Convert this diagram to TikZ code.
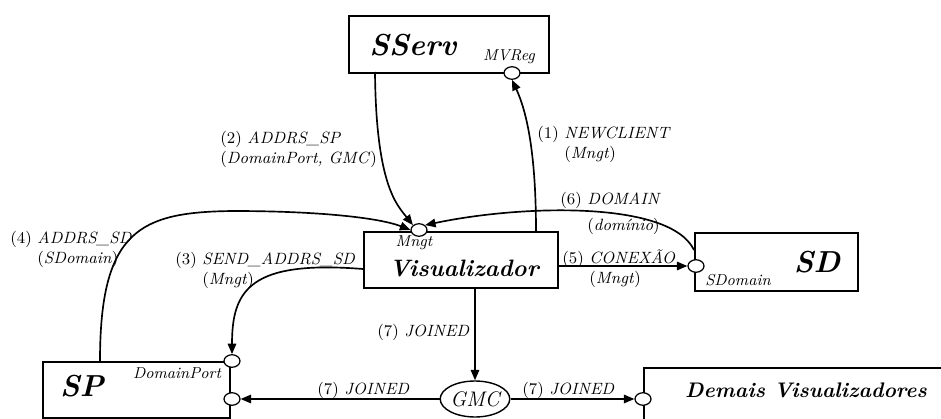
\documentclass[tikz,border=0pt]{standalone}
\usepackage{tikz}
\usetikzlibrary{shapes.geometric, arrows.meta}
% message label: number, name, (argument)
\newcommand{\msglabel}[4][0pt]{\begin{tabular}[t]{@{}l@{\ }l@{}}(#2) & \textit{#3}\\[#1] & (\textit{#4})\end{tabular}}

\begin{document}
\begin{tikzpicture}[x=0.02cm, y=-0.02cm,
  blk/.style={rectangle, draw, line width=1pt, anchor=north west, inner sep=0pt},
  port/.style={ellipse, draw, fill=white, line width=0.7pt, minimum width=0.32cm, minimum height=0.25cm, inner sep=0pt},
  ttl/.style={font=\bfseries\itshape\LARGE, inner sep=0pt},
  sub/.style={font=\bfseries\itshape\large, inner sep=0pt},
  pname/.style={font=\itshape\small, inner sep=0pt},
  msg/.style={anchor=base west, inner sep=0pt, font=\fontsize{9.3}{11.8}\selectfont},
  arr/.style={-{Triangle[length=0.21cm, width=0.17cm]}, line width=0.95pt}
]
\useasboundingbox (0,0) rectangle (941,419);
\clip (0,0) rectangle (941,419);

% blocks
\node[blk, minimum width=4cm, minimum height=1.14cm] (sserv) at (348,15) {};
\node[blk, minimum width=3.88cm, minimum height=1.12cm] (vis) at (363,231) {};
\node[blk, minimum width=3.26cm, minimum height=1.16cm] (sd) at (694,232) {};
\node[blk, minimum width=3.74cm, minimum height=1.12cm] (sp) at (42,361) {};
\node[blk, minimum width=6.2cm, minimum height=1.2cm] (dv) at (643,367) {};
\node[ellipse, draw, fill=white, thick, minimum width=1.28cm, minimum height=0.72cm, inner sep=0pt, font=\itshape\large] (gmc) at (475,399) {GMC};

% ports
\node[port] (mvreg) at (512,73) {};
\node[port] (mngt) at (419,230) {};
\node[port] (sdomain) at (696,266) {};
\node[port] (dport) at (232,361) {};
\node[port] (spin) at (232,399) {};
\node[port] (dvin) at (643,399) {};

% block texts
\node[ttl] (sservtxt) at (413,45) {SServ};
\node[pname] (mvregtxt) at (509,57) {MVReg};
\node[pname] (mngttxt) at (414,243) {Mngt};
\node[sub, font=\bfseries\itshape\fontsize{13.5}{16}\selectfont] (vistxt) at (464,268) {Visualizador};
\node[ttl] (sdtxt) at (817,262) {SD};
\node[pname] (sdomtxt) at (738,280) {SDomain};
\node[ttl] (sptxt) at (82,386) {SP};
\node[pname] (dporttxt) at (177,373) {DomainPort};
\node[sub] (dvtxt) at (806,390) {Demais Visualizadores};

% free ends of the connectors
\coordinate (s2out) at (375,72);
\coordinate (v1out) at (536,231);
\coordinate (v3out) at (363,269);
\coordinate (p4out) at (100,361);
\coordinate (d6out) at (694,250);

% messages
\draw[arr] (v1out) .. controls (536,150) and (526,110) .. (mvreg.south);
\draw[arr] (s2out) .. controls (376,185) and (397,205) .. (mngt.north west);
\draw[arr] (v3out) .. controls (250,260) and (232,290) .. (dport.north);
\draw[arr] (p4out) .. controls (100,230) and (140,212) .. (233,211) .. controls (320,211) and (380,218) .. (mngt.west);
\draw[arr] (vis.east |- sdomain) -- (sdomain.west);
\draw[arr] (d6out) .. controls (670,200) and (520,205) .. (mngt.north east);
\draw[arr] (gmc.north |- vis.south) -- (gmc.north);
\draw[arr] (gmc.west) -- (spin.east);
\draw[arr] (gmc.east) -- (dvin.west);

\node[msg] (m1) at (537,138) {\msglabel{1}{NEWCLIENT}{Mngt}};
\node[msg] (m2) at (220,143) {\begin{tabular}[t]{@{}l@{}}(2) \textit{ADDRS\_SP}\\(\textit{DomainPort, GMC})\end{tabular}};
\node[msg] (m3) at (175,264) {\msglabel{3}{SEND\_ADDRS\_SD}{Mngt}};
\node[msg] (m4) at (10,243) {\msglabel{4}{ADDRS\_SD}{SDomain}};
\node[msg] (m5) at (562,263) {\msglabel{5}{CONEXÃO}{Mngt}};
\node[msg] (m6) at (560,204) {\msglabel[3pt]{6}{DOMAIN}{domínio}};
\node[msg] (m7a) at (377,336) {(7) \textit{JOINED}};
\node[msg] (m7b) at (317,394) {(7) \textit{JOINED}};
\node[msg] (m7c) at (522,394) {(7) \textit{JOINED}};
\end{tikzpicture}
\end{document}
